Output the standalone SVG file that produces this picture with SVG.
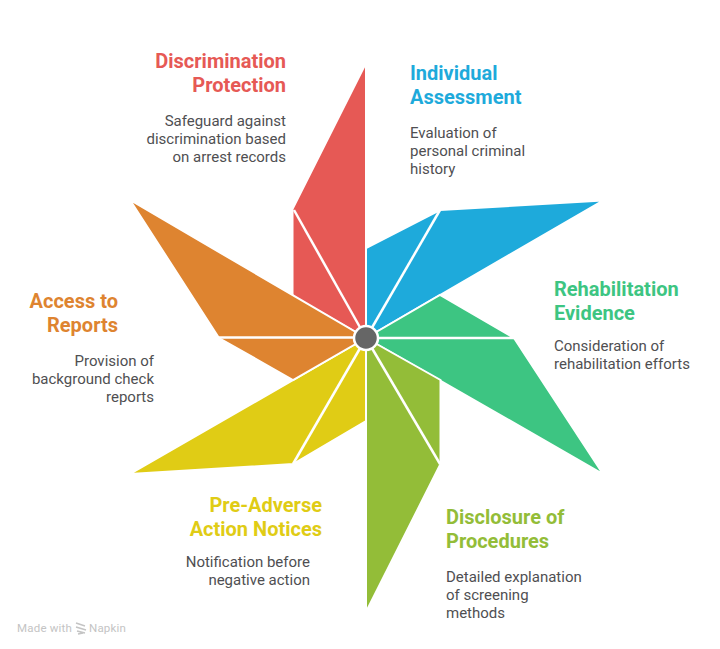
<svg xmlns="http://www.w3.org/2000/svg" width="720" height="649" viewBox="0 0 720 649">
<style>
text{font-family:Roboto,"Liberation Sans",sans-serif}
.t{font-size:20px;font-weight:700}
.d{font-size:15px;fill:#4f4f52}
.e{text-anchor:end}
.b{stroke:#fff;stroke-width:2;stroke-linejoin:miter;stroke-miterlimit:20}
.l{fill:none;stroke:#fff;stroke-width:2.5}
</style>
<rect width="720" height="649" fill="#fff"/>
<g id="node-discrimination"><polygon class="b" points="366,338 366,63 292.500,209 292.500,296" fill="#e65955"/>
<text class="t e" fill="#e65955" x="286" y="68">Discrimination</text><text class="t e" fill="#e65955" x="286" y="92">Protection</text>
<text class="d e" x="286" y="126">Safeguard against</text><text class="d e" x="286" y="144">discrimination based</text><text class="d e" x="286" y="162">on arrest records</text></g>
<g id="node-individual"><polygon class="b" points="366,338 366,248 440,210 603,200.500" fill="#1eaadb"/>
<text class="t" fill="#1eaadb" x="410" y="80">Individual</text><text class="t" fill="#1eaadb" x="410" y="104">Assessment</text>
<text class="d" x="410" y="138">Evaluation of</text><text class="d" x="410" y="156">personal criminal</text><text class="d" x="410" y="174">history</text></g>
<g id="node-rehabilitation"><polygon class="b" points="366,338 440,295 514,338 603,474" fill="#3dc582"/>
<text class="t" fill="#3dc582" x="554" y="296">Rehabilitation</text><text class="t" fill="#3dc582" x="554" y="320">Evidence</text>
<text class="d" x="554" y="351">Consideration of</text><text class="d" x="554" y="369">rehabilitation efforts</text></g>
<g id="node-disclosure"><polygon class="b" points="366,338 440.500,380 440.500,464 366,612" fill="#93bd38"/>
<text class="t" fill="#93bd38" x="446" y="524">Disclosure of</text><text class="t" fill="#93bd38" x="446" y="548">Procedures</text>
<text class="d" x="446" y="582">Detailed explanation</text><text class="d" x="446" y="600">of screening</text><text class="d" x="446" y="618">methods</text></g>
<g id="node-preadverse"><polygon class="b" points="366,338 366,421 293,464 130,474" fill="#e0cc15"/>
<text class="t e" fill="#e0cc15" x="322" y="512">Pre-Adverse</text><text class="t e" fill="#e0cc15" x="322" y="536">Action Notices</text>
<text class="d e" x="310" y="567">Notification before</text><text class="d e" x="310" y="585">negative action</text></g>
<g id="node-access"><polygon class="b" points="366,338 293,380 219,338 130,200" fill="#de8430"/>
<text class="t e" fill="#de8430" x="118" y="308">Access to</text><text class="t e" fill="#de8430" x="118" y="332">Reports</text>
<text class="d e" x="154" y="366">Provision of</text><text class="d e" x="154" y="384">background check</text><text class="d e" x="154" y="402">reports</text></g>
<g id="connectors">
<line class="l" x1="294" y1="210" x2="366" y2="338"/>
<line class="l" x1="440" y1="210" x2="366" y2="338"/>
<line class="l" x1="514" y1="338" x2="366" y2="338"/>
<line class="l" x1="440" y1="464" x2="366" y2="338"/>
<line class="l" x1="293" y1="464" x2="366" y2="338"/>
<line class="l" x1="218" y1="337.500" x2="366" y2="337.500"/>
</g>
<circle id="hub" cx="366" cy="338" r="12" fill="#666" stroke="#fff" stroke-width="2.500"/>
<text x="17" y="632" font-size="11.500" fill="#c4c4c4" letter-spacing=".2">Made with</text>
<path d="M76 623l9 3M76 627l10 3M77 631l8 2M78 634l5-1" fill="none" stroke="#c4c4c4" stroke-width="1.500"/>
<text x="89" y="632" font-size="11.500" fill="#c4c4c4" letter-spacing=".2">Napkin</text>
</svg>
